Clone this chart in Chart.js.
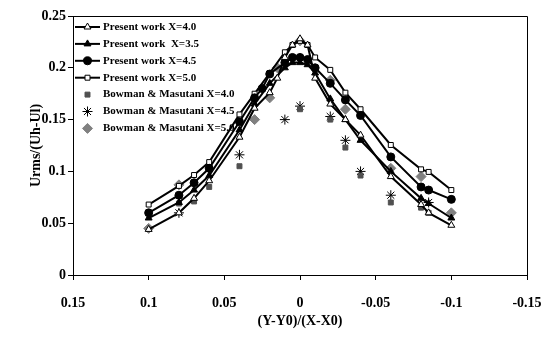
<!DOCTYPE html>
<html>
<head>
<meta charset="utf-8">
<script src="https://cdn.jsdelivr.net/npm/chart.js@4.4.0/dist/chart.umd.min.js"></script>
<style>
  html, body { margin: 0; padding: 0; background: #fff; }
  #wrap { width: 547px; height: 342px; }
</style>
</head>
<body>
<div id="wrap"><canvas id="chart" width="547" height="342"></canvas></div>
<script>
// Present work (lines with markers)
const pw40X = [0.1, 0.08, 0.07, 0.06, 0.04, 0.03, 0.02, 0.015, 0.01, 0.005, 0, -0.005, -0.01, -0.02, -0.03, -0.04, -0.06, -0.08, -0.085, -0.1];
const pw40Y = [0.044, 0.06, 0.074, 0.091, 0.133, 0.161, 0.176, 0.19, 0.21, 0.222, 0.228, 0.222, 0.19, 0.165, 0.15, 0.135, 0.095, 0.068, 0.06, 0.048];

const pw35X = [0.1, 0.08, 0.07, 0.06, 0.04, 0.03, 0.02, 0.01, 0.005, 0, -0.005, -0.01, -0.02, -0.03, -0.04, -0.06, -0.08, -0.085, -0.1];
const pw35Y = [0.055, 0.07, 0.082, 0.096, 0.14, 0.165, 0.185, 0.2, 0.205, 0.205, 0.203, 0.195, 0.17, 0.15, 0.13, 0.1, 0.074, 0.069, 0.055];

const pw45X = [0.1, 0.08, 0.07, 0.06, 0.04, 0.03, 0.025, 0.02, 0.01, 0.005, 0, -0.005, -0.01, -0.02, -0.03, -0.04, -0.06, -0.08, -0.085, -0.1];
const pw45Y = [0.06, 0.077, 0.089, 0.103, 0.148, 0.171, 0.18, 0.194, 0.205, 0.21, 0.21, 0.208, 0.2, 0.185, 0.169, 0.154, 0.114, 0.085, 0.082, 0.073];

const pw50X = [0.1, 0.08, 0.07, 0.06, 0.04, 0.03, 0.02, 0.01, 0.005, 0, -0.005, -0.01, -0.02, -0.03, -0.04, -0.06, -0.08, -0.085, -0.1];
const pw50Y = [0.068, 0.086, 0.0965, 0.109, 0.155, 0.175, 0.195, 0.215, 0.222, 0.226, 0.222, 0.21, 0.198, 0.176, 0.16, 0.1255, 0.102, 0.0995, 0.082];

// Bowman & Masutani (markers only)
const bm40X = [0.08, 0.07, 0.06, 0.04, 0, -0.02, -0.03, -0.04, -0.06, -0.08, -0.085];
const bm40Y = [0.069, 0.071, 0.085, 0.105, 0.16, 0.15, 0.123, 0.096, 0.07, 0.065, 0.06];

const bm45X = [0.08, 0.04, 0.01, 0, -0.02, -0.03, -0.04, -0.06, -0.085];
const bm45Y = [0.06, 0.116, 0.15, 0.163, 0.153, 0.13, 0.1, 0.077, 0.07];

const bm50X = [0.1, 0.08, 0.03, 0.02, 0.015, 0, -0.02, -0.03, -0.06, -0.08, -0.1];
const bm50Y = [0.045, 0.087, 0.15, 0.171, 0.2, 0.226, 0.188, 0.16, 0.103, 0.095, 0.06];

const xTicks = [0.15, 0.1, 0.05, 0, -0.05, -0.1, -0.15];
const yTicks = [0, 0.05, 0.1, 0.15, 0.2, 0.25];

function toPoints(xs, ys) {
    return xs.map((x, i) => ({ x: x, y: ys[i] }));
}

const serif = 'Liberation Serif, "Times New Roman", serif';

// Legend drawn inside the plot area, top left
const insideLegend = {
    id: 'insideLegend',
    afterDraw(chart) {
        const ctx = chart.ctx;
        const area = chart.chartArea;
        const x0 = area.left + 2;
        const x1 = area.left + 27;
        const mid = (x0 + x1) / 2;
        ctx.save();
        ctx.font = 'bold 11px ' + serif;
        ctx.textBaseline = 'middle';
        chart.data.datasets.forEach((ds, i) => {
            const y = area.top + 11 + i * 16.9;
            if (ds.showLine !== false) {
                ctx.strokeStyle = '#000';
                ctx.lineWidth = 2;
                ctx.beginPath();
                ctx.moveTo(x0, y);
                ctx.lineTo(x1, y);
                ctx.stroke();
            }
            ctx.fillStyle = ds.pointBackgroundColor;
            ctx.strokeStyle = ds.pointBorderColor;
            ctx.lineWidth = 1;
            Chart.helpers.drawPoint(ctx, {
                pointStyle: ds.pointStyle,
                radius: ds.pointRadius,
                rotation: 0,
                borderWidth: 1
            }, mid, y);
            ctx.fillStyle = '#000';
            ctx.fillText(ds.label, x1 + 3, y);
        });
        ctx.restore();
    }
};

// Top and right edges of the plot box
const plotBox = {
    id: 'plotBox',
    beforeDatasetsDraw(chart) {
        const ctx = chart.ctx;
        const a = chart.chartArea;
        ctx.save();
        ctx.strokeStyle = '#000';
        ctx.lineWidth = 1;
        ctx.beginPath();
        ctx.moveTo(a.left, a.top + 0.5);
        ctx.lineTo(a.right + 0.5, a.top + 0.5);
        ctx.lineTo(a.right + 0.5, a.bottom);
        ctx.stroke();
        ctx.restore();
    }
};

function lineSet(label, xs, ys, style, fill, radius) {
    return {
        label: label,
        data: toPoints(xs, ys),
        showLine: true,
        borderColor: '#000',
        borderWidth: 2,
        tension: 0,
        pointStyle: style,
        pointRadius: radius,
        pointBackgroundColor: fill,
        pointBorderColor: '#000',
        pointBorderWidth: 1
    };
}

function markSet(label, xs, ys, style, fill, border, radius) {
    return {
        label: label,
        data: toPoints(xs, ys),
        showLine: false,
        pointStyle: style,
        pointRadius: radius,
        pointBackgroundColor: fill,
        pointBorderColor: border,
        pointBorderWidth: 1
    };
}

new Chart(document.getElementById('chart').getContext('2d'), {
    type: 'scatter',
    data: {
        datasets: [
            lineSet('Present work X=4.0', pw40X, pw40Y, 'triangle', '#fff', 4),
            lineSet('Present work  X=3.5', pw35X, pw35Y, 'triangle', '#000', 4),
            lineSet('Present work X=4.5', pw45X, pw45Y, 'circle', '#000', 4),
            lineSet('Present work X=5.0', pw50X, pw50Y, 'rect', '#fff', 3.5),
            markSet('Bowman & Masutani X=4.0', bm40X, bm40Y, 'rect', '#505050', '#505050', 3.5),
            markSet('Bowman & Masutani X=4.5', bm45X, bm45Y, 'star', '#000', '#000', 5),
            markSet('Bowman & Masutani X=5.0', bm50X, bm50Y, 'rectRot', '#808080', '#808080', 5)
        ]
    },
    options: {
        responsive: false,
        animation: false,
        layout: { padding: { top: 16, right: 20, left: 0, bottom: 0 } },
        plugins: {
            legend: { display: false },
            tooltip: { enabled: false }
        },
        scales: {
            x: {
                type: 'linear',
                reverse: true,
                min: -0.15,
                max: 0.15,
                afterBuildTicks: s => { s.ticks = xTicks.map(v => ({ value: v })); },
                afterFit: s => {
                    s.height = 67;
                    s.paddingLeft = 0;
                    s.paddingRight = 0;
                },
                grid: { drawOnChartArea: false, drawTicks: true, tickLength: 5, color: '#000' },
                border: { display: true, color: '#000', width: 1 },
                ticks: {
                    color: '#000',
                    padding: 15,
                    font: { family: serif, size: 14, weight: 'bold' },
                    callback: v => String(Math.round(v * 100) / 100)
                },
                title: {
                    display: true,
                    text: '(Y-Y0)/(X-X0)',
                    color: '#000',
                    padding: { top: 4, bottom: 12 },
                    font: { family: serif, size: 14, weight: 'bold' }
                }
            },
            y: {
                type: 'linear',
                min: 0,
                max: 0.25,
                afterBuildTicks: s => { s.ticks = yTicks.map(v => ({ value: v })); },
                afterFit: s => {
                    s.width = 73;
                    s.paddingTop = 0;
                    s.paddingBottom = 0;
                },
                grid: { drawOnChartArea: false, drawTicks: true, tickLength: 5, color: '#000' },
                border: { display: true, color: '#000', width: 1 },
                ticks: {
                    color: '#000',
                    padding: 2,
                    font: { family: serif, size: 14, weight: 'bold' },
                    callback: v => String(Math.round(v * 100) / 100)
                },
                title: {
                    display: true,
                    text: 'Urms/(Uh-Ul)',
                    color: '#000',
                    padding: { top: 28, bottom: 0 },
                    font: { family: serif, size: 14, weight: 'bold' }
                }
            }
        }
    },
    plugins: [plotBox, insideLegend]
});
</script>
</body>
</html>
